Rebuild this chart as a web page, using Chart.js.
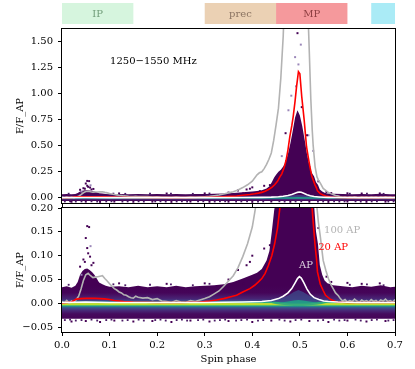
<!DOCTYPE html>
<html><head><meta charset="utf-8">
<script src="https://cdn.jsdelivr.net/npm/chart.js@4.4.0/dist/chart.umd.min.js"></script>
<style>
html,body{margin:0;padding:0;background:#fff;}
#wrap{position:relative;width:415px;height:369px;overflow:hidden;}
canvas{position:absolute;left:0;top:0;}
</style></head><body>
<div id="wrap"><canvas id="cTop" width="415" height="369"></canvas><canvas id="cBot" width="415" height="369"></canvas></div>
<script>
// ---------------- data ----------------
const phaseTicks = [0.0, 0.1, 0.2, 0.3, 0.4, 0.5, 0.6, 0.7];
const topTicks = [0.00, 0.25, 0.50, 0.75, 1.00, 1.25, 1.50];
const botTicks = [-0.05, 0.00, 0.05, 0.10, 0.15, 0.20];

const bandStart = [0.00, 0.30, 0.45, 0.65];
const bandEnd   = [0.15, 0.45, 0.60, 0.70];
const bandLabel = ['IP', 'prec', 'MP', ''];

// upper edge of the single-pulse density cloud
const envX  = [0.000,0.010,0.020,0.028,0.033,0.038,0.043,0.048,0.053,0.058,0.063,0.068,0.073,0.078,0.085,0.092,0.100,0.120,0.140,0.160,0.180,0.200,0.220,0.240,0.260,0.280,0.300,0.320,0.340,0.360,0.380,0.400,0.410,0.420,0.430,0.436,0.441,0.446,0.450,0.455,0.460,0.465,0.470,0.475,0.480,0.485,0.490,0.495,0.500,0.505,0.510,0.515,0.520,0.525,0.530,0.534,0.538,0.542,0.547,0.552,0.558,0.570,0.590,0.610,0.630,0.650,0.670,0.690,0.700];
const envHi = [0.034,0.036,0.033,0.037,0.045,0.060,0.068,0.072,0.073,0.070,0.066,0.060,0.052,0.044,0.040,0.037,0.035,0.036,0.034,0.037,0.034,0.036,0.034,0.037,0.034,0.036,0.037,0.038,0.040,0.045,0.052,0.060,0.064,0.072,0.090,0.110,0.150,0.195,0.220,0.250,0.270,0.300,0.340,0.420,0.520,0.640,0.770,0.840,0.790,0.690,0.560,0.420,0.310,0.240,0.205,0.150,0.125,0.080,0.060,0.048,0.042,0.038,0.036,0.034,0.037,0.035,0.038,0.034,0.035];
const envFloor = -0.032;

// main-pulse core of the cloud
const coreX  = [0.440, 0.460, 0.475, 0.487, 0.497, 0.507, 0.520, 0.535, 0.555];
const glowHi = [0.006, 0.010, 0.016, 0.024, 0.028, 0.024, 0.016, 0.010, 0.006];
const glowLo = [0.006, 0.002, 0.000, -0.001, -0.001, -0.001, 0.000, 0.002, 0.006];
const tealHi = [0.000, 0.002, 0.004, 0.006, 0.007, 0.006, 0.004, 0.002, 0.000];
const tealLo = [0.000, -0.003, -0.004, -0.005, -0.005, -0.005, -0.004, -0.003, 0.000];

// 100 AP curve
const ap100X = [0.000,0.005,0.010,0.015,0.020,0.025,0.030,0.035,0.040,0.045,0.050,0.055,0.060,0.065,0.070,0.075,0.080,0.085,0.090,0.095,0.100,0.105,0.110,0.115,0.120,0.125,0.130,0.135,0.140,0.145,0.150,0.155,0.160,0.170,0.180,0.190,0.200,0.210,0.220,0.230,0.240,0.250,0.260,0.270,0.280,0.290,0.300,0.310,0.320,0.330,0.340,0.350,0.360,0.370,0.380,0.390,0.400,0.405,0.410,0.415,0.420,0.425,0.430,0.435,0.440,0.445,0.450,0.455,0.460,0.465,0.470,0.480,0.490,0.497,0.505,0.512,0.518,0.520,0.523,0.526,0.528,0.532,0.536,0.539,0.543,0.549,0.555,0.560,0.565,0.570,0.575,0.581,0.585,0.590,0.595,0.600,0.605,0.610,0.615,0.620,0.625,0.630,0.635,0.640,0.645,0.650,0.655,0.660,0.665,0.670,0.675,0.680,0.685,0.690,0.695,0.700];
const ap100Y = [0.004,0.001,0.006,0.000,0.005,0.002,0.008,0.015,0.030,0.048,0.060,0.063,0.058,0.054,0.055,0.056,0.057,0.058,0.052,0.047,0.041,0.036,0.031,0.028,0.024,0.022,0.018,0.017,0.014,0.012,0.011,0.015,0.013,0.011,0.012,0.008,0.010,0.005,0.004,0.002,0.006,0.003,0.002,0.006,0.004,0.007,0.010,0.014,0.020,0.026,0.036,0.047,0.058,0.075,0.098,0.125,0.160,0.190,0.220,0.240,0.250,0.280,0.320,0.370,0.430,0.550,0.700,0.860,1.150,1.550,2.200,3.800,5.500,6.000,5.000,3.000,1.650,1.380,0.950,0.650,0.500,0.300,0.200,0.170,0.140,0.090,0.068,0.052,0.040,0.031,0.022,0.016,0.010,0.005,0.008,0.003,0.006,0.004,0.009,0.005,0.002,0.007,0.004,0.006,0.003,0.008,0.004,0.006,0.002,0.007,0.005,0.009,0.004,0.006,0.003,0.008];

// 20 AP curve
const ap20X = [0.000,0.010,0.020,0.025,0.030,0.040,0.050,0.060,0.070,0.080,0.090,0.100,0.110,0.120,0.130,0.150,0.200,0.250,0.290,0.310,0.325,0.340,0.355,0.367,0.380,0.395,0.405,0.413,0.420,0.427,0.434,0.441,0.447,0.453,0.458,0.462,0.467,0.471,0.475,0.479,0.483,0.486,0.490,0.493,0.497,0.500,0.504,0.509,0.514,0.518,0.521,0.525,0.528,0.532,0.535,0.537,0.543,0.549,0.554,0.565,0.577,0.600,0.700];
const ap20Y = [0.001,0.002,0.003,0.006,0.009,0.010,0.0105,0.0105,0.0105,0.010,0.0095,0.008,0.006,0.005,0.004,0.003,0.002,0.002,0.003,0.005,0.007,0.010,0.014,0.017,0.024,0.031,0.038,0.045,0.052,0.063,0.080,0.100,0.125,0.158,0.200,0.230,0.290,0.360,0.460,0.590,0.690,0.780,0.930,1.065,1.210,1.190,0.970,0.750,0.490,0.380,0.300,0.210,0.170,0.122,0.093,0.066,0.040,0.027,0.017,0.008,0.003,0.002,0.002];

// average profile (AP)
const apX = [0.000,0.050,0.100,0.200,0.300,0.380,0.420,0.440,0.455,0.465,0.475,0.483,0.490,0.495,0.499,0.503,0.508,0.515,0.522,0.530,0.540,0.550,0.560,0.580,0.620,0.700];
const apY = [0.002,0.003,0.002,0.002,0.002,0.003,0.004,0.006,0.010,0.015,0.022,0.031,0.043,0.052,0.056,0.053,0.044,0.030,0.019,0.012,0.008,0.005,0.004,0.003,0.002,0.002];

// isolated histogram cells
const outDarkX = [0.053,0.057,0.050,0.053,0.055,0.059,0.048,0.062,0.038,0.045,0.066,0.395,0.388,0.437,0.416,0.381,0.539,0.556,0.566,0.668,0.600,0.630,0.120,0.220,0.300,0.350,0.400,0.370,0.425,0.020,0.050,0.080,0.110,0.150,0.190,0.230,0.270,0.310,0.350,0.400,0.440,0.480,0.520,0.560,0.600,0.640,0.680,0.495,0.504,0.470,0.515];
const outDarkY = [0.162,0.160,0.137,0.116,0.105,0.098,0.087,0.080,0.077,0.092,0.085,0.087,0.080,0.122,0.063,0.042,0.158,0.056,0.045,0.042,0.043,0.041,0.042,0.041,0.042,0.050,0.100,0.070,0.115,-0.038,-0.037,-0.039,-0.036,-0.038,-0.037,-0.039,-0.036,-0.038,-0.037,-0.039,-0.036,-0.038,-0.037,-0.039,-0.036,-0.038,-0.037,1.580,0.870,0.620,0.600];
const outLightX = [0.502,0.490,0.497,0.492,0.476,0.518,0.462,0.528,0.482,0.041,0.060];
const outLightY = [1.470,1.350,1.280,1.070,0.840,0.600,0.400,0.450,0.980,0.060,0.120];
const fringeX = [0.006,0.017,0.029,0.041,0.062,0.074,0.093,0.104,0.127,0.138,0.161,0.172,0.196,0.207,0.218,0.241,0.252,0.263,0.286,0.297,0.321,0.332,0.343,0.366,0.377,0.389,0.412,0.423,0.457,0.468,0.491,0.503,0.538,0.549,0.572,0.583,0.594,0.617,0.628,0.651,0.662,0.686,0.697,0.014,0.108,0.133,0.185,0.229,0.275,0.310,0.605,0.641,0.676];
const fringeY = [-0.035,-0.034,-0.036,-0.035,-0.034,-0.036,-0.035,-0.034,-0.036,-0.035,-0.034,-0.036,-0.035,-0.034,-0.036,-0.035,-0.034,-0.036,-0.035,-0.034,-0.036,-0.035,-0.034,-0.036,-0.035,-0.034,-0.036,-0.035,-0.034,-0.036,-0.035,-0.034,-0.036,-0.035,-0.034,-0.036,-0.035,-0.034,-0.036,-0.035,-0.034,-0.036,-0.035,0.039,0.040,0.038,0.039,0.040,0.038,0.041,0.039,0.040,0.038];

// ---------------- drawing ----------------
const FONT = 'DejaVu Serif';
const pts = (xs, ys) => xs.map((x, i) => ({x: x, y: ys[i]}));
const fmt = (v, d) => (v < -1e-9 ? '\u2212' : '') + Math.abs(v).toFixed(d);
const CLEAR = 'rgba(0,0,0,0)';

const viridisStops = [[0.036,'#440154'],[0.022,'#450559'],[0.015,'#481769'],[0.009,'#482677'],[0.006,'#404688'],[0.0035,'#2c728e'],[0.002,'#22a884'],[0.0005,'#7ad151'],[-0.001,'#fde725'],[-0.0025,'#b5de2b'],[-0.004,'#5ec962'],[-0.006,'#21918c'],[-0.009,'#3b528b'],[-0.014,'#472d7b'],[-0.022,'#460b5e'],[-0.036,'#440154']];

function cloudFill(c) {
  const ch = c.chart;
  if (!ch.chartArea || !ch.scales.y) return '#440154';
  const y = ch.scales.y;
  const top = viridisStops[0][0], bot = viridisStops[viridisStops.length - 1][0];
  const g = ch.ctx.createLinearGradient(0, y.getPixelForValue(top), 0, y.getPixelForValue(bot));
  viridisStops.forEach(s => g.addColorStop((top - s[0]) / (top - bot), s[1]));
  return g;
}

const framePlugin = {
  id: 'frame',
  afterDatasetsDraw(chart) {
    const {ctx, chartArea: a} = chart;
    ctx.save();
    ctx.strokeStyle = '#000'; ctx.lineWidth = 1;
    ctx.strokeRect(Math.round(a.left) - 0.5, Math.round(a.top) - 0.5, Math.round(a.right - a.left) + 1, Math.round(a.bottom - a.top) + 1);
    ctx.restore();
  }
};

function textPlugin(items) {
  return {
    id: 'texts',
    afterDatasetsDraw(chart) {
      const {ctx, scales} = chart;
      ctx.save();
      ctx.font = '10px "' + FONT + '"';
      ctx.textBaseline = 'middle';
      items.forEach(t => {
        ctx.fillStyle = t.color;
        ctx.textAlign = t.align;
        ctx.fillText(t.text, scales.x.getPixelForValue(t.x), scales.y.getPixelForValue(t.y));
      });
      ctx.restore();
    }
  };
}

const headerPlugin = {
  id: 'header',
  afterDraw(chart) {
    const {ctx, scales} = chart;
    const fills = ['#d6f5de', '#ebd1b4', '#f5999c', '#aaebf6'];
    const inks = ['#6f9c78', '#8b7462', '#8e3f42', '#000'];
    ctx.save();
    bandStart.forEach((s, i) => {
      const x0 = scales.x.getPixelForValue(s), x1 = scales.x.getPixelForValue(bandEnd[i]);
      ctx.fillStyle = fills[i];
      ctx.fillRect(x0, 3, x1 - x0, 21);
      if (bandLabel[i]) {
        ctx.fillStyle = inks[i];
        ctx.font = '10px "' + FONT + '"';
        ctx.textAlign = 'center'; ctx.textBaseline = 'middle';
        ctx.fillText(bandLabel[i], (x0 + x1) / 2, 14);
      }
    });
    ctx.restore();
  }
};

function build(id, o) {
  return new Chart(document.getElementById(id), {
    type: 'line',
    data: {datasets: [
      {data: pts(apX, apY), borderColor: '#ffffff', borderWidth: 1.6, pointRadius: 0, fill: false},
      {data: pts(ap20X, ap20Y), borderColor: '#ff0000', borderWidth: 1.6, pointRadius: 0, fill: false},
      {data: pts(ap100X, ap100Y), borderColor: '#b3b3b3', borderWidth: 1.6, pointRadius: 0, fill: false},
      {type: 'scatter', data: pts(outDarkX, outDarkY), backgroundColor: '#440154', borderWidth: 0, pointStyle: 'rect', pointRadius: 1.4},
      {type: 'scatter', data: pts(outLightX, outLightY), backgroundColor: '#9a86b8', borderWidth: 0, pointStyle: 'rect', pointRadius: 1.4},
      {type: 'scatter', data: pts(fringeX, fringeY), backgroundColor: '#4a1a66', borderWidth: 0, pointStyle: 'rect', pointRadius: 1.3},
      {data: pts(coreX, tealHi), borderColor: CLEAR, borderWidth: 0.01, backgroundColor: 'rgba(32,163,134,0.85)', fill: '+1', pointRadius: 0},
      {data: pts(coreX, tealLo), borderColor: CLEAR, borderWidth: 0.01, pointRadius: 0, fill: false},
      {data: pts(coreX, glowHi), borderColor: CLEAR, borderWidth: 0.01, backgroundColor: 'rgba(62,74,137,0.75)', fill: '+1', pointRadius: 0},
      {data: pts(coreX, glowLo), borderColor: CLEAR, borderWidth: 0.01, pointRadius: 0, fill: false},
      {data: pts(envX, envHi), borderColor: CLEAR, borderWidth: 0.01, backgroundColor: cloudFill, fill: {value: envFloor}, pointRadius: 0}
    ]},
    options: {
      responsive: false, animation: false, devicePixelRatio: 1,
      layout: {padding: o.padding},
      plugins: {legend: {display: false}, tooltip: {enabled: false}},
      elements: {line: {tension: 0}},
      scales: {
        x: {
          type: 'linear', min: 0, max: 0.7,
          afterBuildTicks: s => { s.ticks = phaseTicks.map(v => ({value: v})); },
          afterFit: s => { s.height = o.xH; },
          grid: {drawOnChartArea: false, drawTicks: true, tickLength: 4, color: '#000', tickColor: '#000'},
          border: {display: false},
          ticks: {display: o.xLabels, padding: 3, color: '#000', font: {family: FONT, size: 10}, maxRotation: 0, autoSkip: false, callback: v => fmt(v, 1)},
          title: {display: o.xLabels, text: 'Spin phase', color: '#000', font: {family: FONT, size: 10}, padding: {top: 0, bottom: 4}}
        },
        y: {
          type: 'linear', min: o.yMin, max: o.yMax,
          afterBuildTicks: s => { s.ticks = o.yTicks.map(v => ({value: v})); },
          afterFit: s => { s.width = 62; },
          grid: {drawOnChartArea: false, drawTicks: true, tickLength: 4, color: '#000', tickColor: '#000'},
          border: {display: false},
          ticks: {padding: 5, color: '#000', font: {family: FONT, size: 10}, autoSkip: false, callback: v => fmt(v, 2)},
          title: {display: true, text: 'F/F_AP', color: '#000', font: {family: FONT, size: 10}, padding: {top: 14, bottom: 0}}
        }
      }
    },
    plugins: o.plugins
  });
}

build('cTop', {
  padding: {top: 29, right: 20, bottom: 160, left: 0}, xH: 6, xLabels: false,
  yMin: -0.05, yMax: 1.62, yTicks: topTicks,
  plugins: [framePlugin, headerPlugin, textPlugin([{text: '1250\u22121550 MHz', x: 0.101, y: 1.313, color: '#000', align: 'left'}])]
});
build('cBot', {
  padding: {top: 208, right: 20, bottom: 0, left: 0}, xH: 37, xLabels: true,
  yMin: -0.06, yMax: 0.20, yTicks: botTicks,
  plugins: [framePlugin, textPlugin([
    {text: '100 AP', x: 0.589, y: 0.152, color: '#b3b3b3', align: 'center'},
    {text: '20 AP', x: 0.570, y: 0.117, color: '#ff0000', align: 'center'},
    {text: 'AP', x: 0.513, y: 0.080, color: 'rgba(255,255,255,0.8)', align: 'center'}
  ])]
});
</script>
</body></html>
